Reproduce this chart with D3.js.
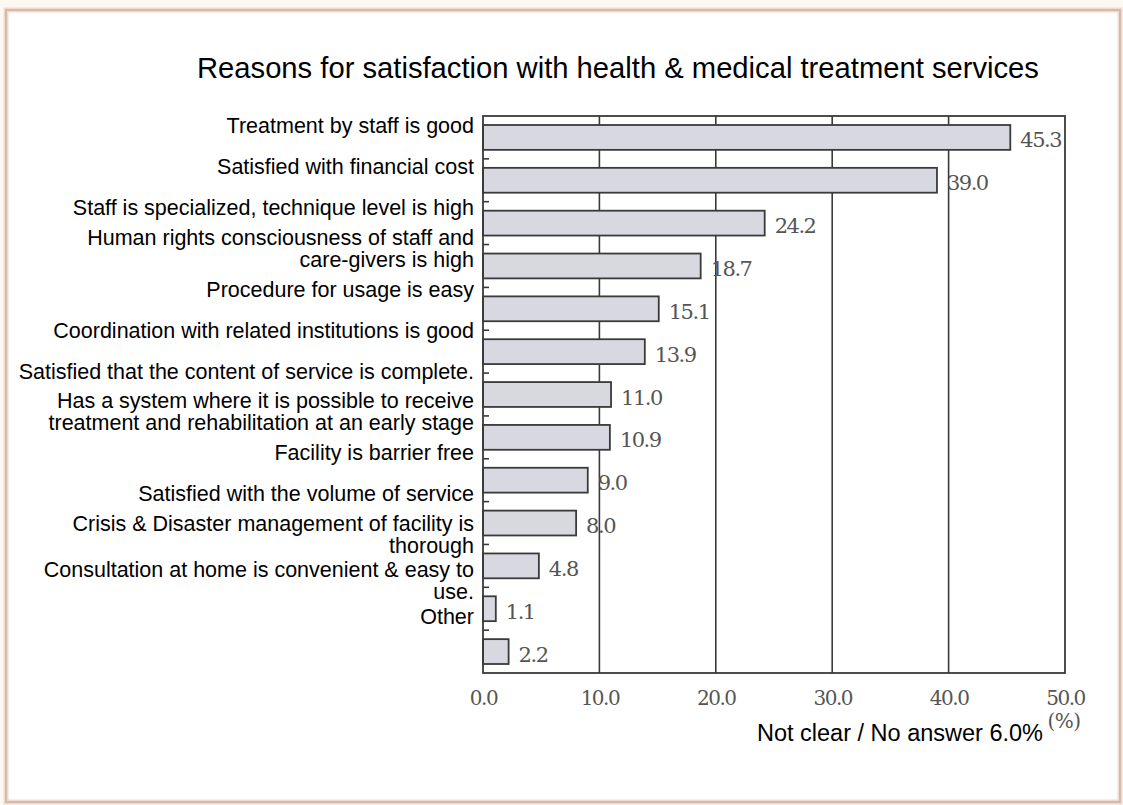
<!DOCTYPE html>
<html>
<head>
<meta charset="utf-8">
<script src="https://cdn.jsdelivr.net/npm/d3@7"></script>
<style>
  html, body { margin: 0; padding: 0; background: #fdf8f1; }
  svg { display: block; }
</style>
</head>
<body>
<svg id="chart" width="1123" height="805"></svg>
<script>
// Survey answers: reasons for satisfaction (multiple answers, %)
const chartTitle = "Reasons for satisfaction with health & medical treatment services";
const categories = [
  ["Treatment by staff is good"],
  ["Satisfied with financial cost"],
  ["Staff is specialized, technique level is high"],
  ["Human rights consciousness of staff and", "care-givers is high"],
  ["Procedure for usage is easy"],
  ["Coordination with related institutions is good"],
  ["Satisfied that the content of service is complete."],
  ["Has a system where it is possible to receive", "treatment and rehabilitation at an early stage"],
  ["Facility is barrier free"],
  ["Satisfied with the volume of service"],
  ["Crisis & Disaster management of facility is", "thorough"],
  ["Consultation at home is convenient & easy to", "use."],
  ["Other"]
];
const values = [45.3, 39.0, 24.2, 18.7, 15.1, 13.9, 11.0, 10.9, 9.0, 8.0, 4.8, 1.1, 2.2];
const xTicks = [0, 10, 20, 30, 40, 50];
const unitLabel = "(%)";
const noAnswerNote = "Not clear / No answer 6.0%";

const svg = d3.select("#chart");

// outer panel
svg.append("rect")
  .attr("x", 6).attr("y", 10).attr("width", 1114).attr("height", 792)
  .attr("fill", "#ffffff")
  .attr("stroke", "#eddad0").attr("stroke-width", 5);
svg.append("rect")
  .attr("x", 6).attr("y", 10).attr("width", 1114).attr("height", 792)
  .attr("fill", "none")
  .attr("stroke", "#d0ad9c").attr("stroke-width", 1.5);

const plot = { left: 483, right: 1065, top: 116, bottom: 673 };
const keys = d3.range(values.length);

const x = d3.scaleLinear().domain([0, 50]).range([plot.left, plot.right]);
const y = d3.scaleBand().domain(keys).range([plot.top, plot.bottom])
  .paddingInner(0.42).paddingOuter(0.21);
// category text is laid out on its own band, slightly tighter than the bars
const yLabel = d3.scaleBand().domain(keys).range([105, 637]);

const ink = "#3a3a3a";
const gray = "#555555";
const serif = "DejaVu Serif, serif";
const sans = "Liberation Sans, Arial, sans-serif";

// vertical grid lines
svg.append("g")
  .selectAll("line")
  .data(xTicks.filter(t => t > 0 && t < 50))
  .join("line")
  .attr("x1", d => x(d)).attr("x2", d => x(d))
  .attr("y1", plot.top).attr("y2", plot.bottom)
  .attr("stroke", ink).attr("stroke-width", 1.6);

// bars
svg.append("g")
  .selectAll("rect")
  .data(values)
  .join("rect")
  .attr("x", x(0))
  .attr("y", (d, i) => y(i))
  .attr("width", d => x(d) - x(0))
  .attr("height", y.bandwidth())
  .attr("fill", "#d8d8e0")
  .attr("stroke", ink).attr("stroke-width", 1.8);

// plot frame
svg.append("rect")
  .attr("x", plot.left).attr("y", plot.top)
  .attr("width", plot.right - plot.left).attr("height", plot.bottom - plot.top)
  .attr("fill", "none").attr("stroke", ink).attr("stroke-width", 1.8);

// small ticks between bars on the category axis
const gapMid = d => y(d) + y.bandwidth() + (y.step() - y.bandwidth()) / 2;
svg.append("g")
  .selectAll("line")
  .data(keys.slice(0, -1))
  .join("line")
  .attr("x1", plot.left).attr("x2", plot.left + 6)
  .attr("y1", gapMid).attr("y2", gapMid)
  .attr("stroke", ink).attr("stroke-width", 1.6);

// value labels
svg.append("g")
  .selectAll("text")
  .data(values)
  .join("text")
  .attr("x", d => x(d) + 10)
  .attr("y", (d, i) => y(i) + y.bandwidth() / 2 + 10)
  .attr("font-family", serif)
  .attr("font-size", 21)
  .attr("letter-spacing", -1.5)
  .attr("fill", gray)
  .text(d => d.toFixed(1));

// x axis labels
const xAxis = d3.axisBottom(x).tickValues(xTicks).tickSize(0).tickPadding(0)
  .tickFormat(d3.format(".1f"));
const gx = svg.append("g").attr("transform", `translate(0,${plot.bottom + 32})`).call(xAxis);
gx.select(".domain").remove();
gx.selectAll("text")
  .attr("font-family", serif)
  .attr("font-size", 20)
  .attr("letter-spacing", -1.5)
  .attr("fill", gray)
  .attr("dy", 0);

svg.append("text")
  .attr("x", x(50) - 1).attr("y", plot.bottom + 55)
  .attr("text-anchor", "middle")
  .attr("font-family", serif)
  .attr("font-size", 20)
  .attr("letter-spacing", -0.5)
  .attr("fill", gray)
  .text(unitLabel);

// category labels: centred on their band, then pushed down where a
// wrapped label would crowd the one above it
const lineH = 22, minGap = 24;
const layout = [];
categories.forEach((lines, i) => {
  const c = yLabel(i) + yLabel.bandwidth() / 2;
  let first = c - (lines.length - 1) * lineH / 2;
  const prev = layout[i - 1];
  if (prev) {
    const prevLast = prev.first + (prev.lines.length - 1) * lineH;
    if (first - prevLast < minGap) first = prevLast + minGap;
  }
  layout.push({ lines, first });
});

svg.append("g")
  .selectAll("text")
  .data(layout)
  .join("text")
  .attr("text-anchor", "end")
  .attr("font-family", sans)
  .attr("font-size", 21.5)
  .attr("fill", "#000")
  .each(function (d) {
    d3.select(this).selectAll("tspan")
      .data(d.lines)
      .join("tspan")
      .attr("x", 474)
      .attr("y", (l, j) => d.first + j * lineH + 7.5)
      .text(l => l);
  });

// title
svg.append("text")
  .attr("x", 197).attr("y", 78)
  .attr("font-family", sans)
  .attr("font-size", 29.2)
  .attr("fill", "#000")
  .text(chartTitle);

// note under the axis
svg.append("text")
  .attr("x", 1043).attr("y", 741)
  .attr("text-anchor", "end")
  .attr("font-family", sans)
  .attr("font-size", 23.5)
  .attr("fill", "#000")
  .text(noAnswerNote);
</script>
</body>
</html>
